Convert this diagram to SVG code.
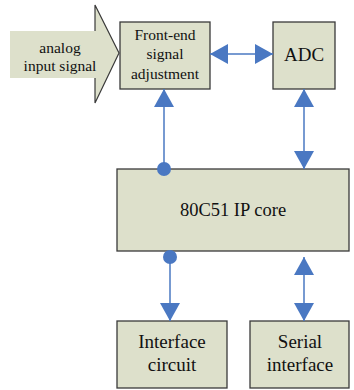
<svg xmlns="http://www.w3.org/2000/svg" width="354" height="390" viewBox="0 0 354 390">
<defs>
<style>
.box{fill:#dde0cb;stroke:#3a3a3a;stroke-width:1.3}
.c{stroke:#4a78c2;stroke-width:1.5;fill:none}
</style>
<marker id="ah" markerUnits="userSpaceOnUse" markerWidth="18" markerHeight="20" refX="18" refY="10" orient="auto-start-reverse" viewBox="0 0 18 20">
<path d="M0,0 L18,10 L0,20 z" fill="#4a78c2"/>
</marker>
<marker id="dot" markerUnits="userSpaceOnUse" markerWidth="14" markerHeight="14" refX="7" refY="7" viewBox="0 0 14 14">
<circle cx="7" cy="7" r="7" fill="#4a78c2"/>
</marker>
</defs>
<rect width="354" height="390" fill="#fff"/>
<g font-family="Liberation Serif, DejaVu Serif, serif" fill="#111" text-anchor="middle">
<g id="input-arrow">
<polygon points="10,31 95,31 95,5 119,53 95,103 95,78 10,78" fill="#dde0cb"/>
<polyline points="95,31 95,5 119,53 95,103 95,78" fill="none" stroke="#3a3a3a" stroke-width="1.2"/>
<text x="60" y="53" font-size="15.5">analog</text>
<text x="60" y="71" font-size="15.5">input signal</text>
</g>
<g id="frontend">
<rect class="box" x="120" y="22" width="90" height="67"/>
<text x="165" y="40" font-size="15.5">Front-end</text>
<text x="165" y="59" font-size="15.5">signal</text>
<text x="165" y="79" font-size="15.5">adjustment</text>
</g>
<g id="adc">
<rect class="box" x="273" y="22" width="62" height="67"/>
<text x="304" y="61" font-size="19">ADC</text>
</g>
<g id="core">
<rect class="box" x="117" y="169" width="232" height="82"/>
<text x="233" y="216" font-size="18.5">80C51 IP core</text>
</g>
<g id="interface">
<rect class="box" x="117" y="321" width="110" height="67"/>
<text x="172" y="348" font-size="19">Interface</text>
<text x="172" y="371" font-size="19">circuit</text>
</g>
<g id="serial">
<rect class="box" x="250" y="321" width="99" height="67"/>
<text x="300" y="348" font-size="19">Serial</text>
<text x="300" y="371" font-size="19">interface</text>
</g>
</g>
<g id="connectors">
<line class="c" x1="210" y1="54" x2="273" y2="54" marker-start="url(#ah)" marker-end="url(#ah)"/>
<line class="c" x1="164" y1="169" x2="164" y2="89" marker-start="url(#dot)" marker-end="url(#ah)"/>
<line class="c" x1="304" y1="89" x2="304" y2="169" marker-start="url(#ah)" marker-end="url(#ah)"/>
<line class="c" x1="170" y1="257" x2="170" y2="321" marker-start="url(#dot)" marker-end="url(#ah)"/>
<line class="c" x1="304" y1="257" x2="304" y2="321" marker-start="url(#ah)" marker-end="url(#ah)"/>
</g>
</svg>
